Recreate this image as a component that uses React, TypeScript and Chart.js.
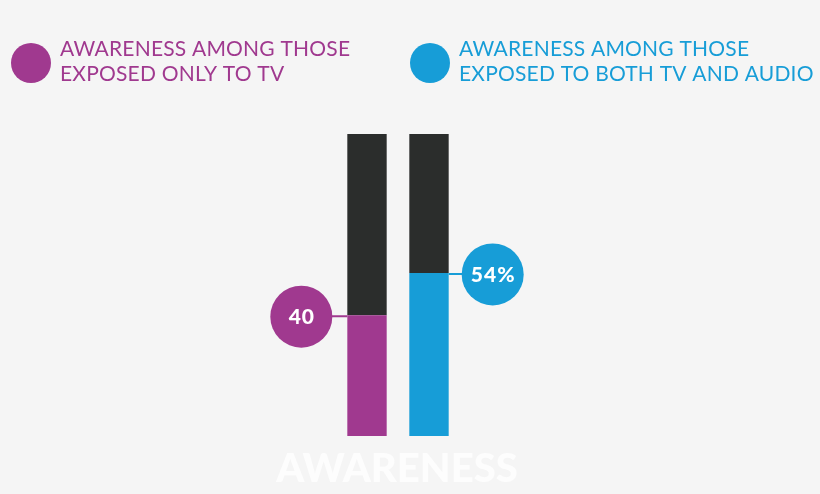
import { useEffect, useRef } from "react"
import { Chart, registerables } from "chart.js"

Chart.register(...registerables)

// datos
const categories = ["TV only", "TV + Audio"]
const awareness = [40, 54]
const valueLabels = ["40", "54%"]
const labelSides = ["left", "right"]
const legendLines = [
  ["AWARENESS AMONG THOSE", "EXPOSED ONLY TO TV"],
  ["AWARENESS AMONG THOSE", "EXPOSED TO BOTH TV AND AUDIO"],
]
const axisTitle = "AWARENESS"

const barColors = ["#a0398f", "#179dd7"]
const darkColor = "#2b2d2c"
const bgColor = "#f5f5f5"
const FONT = "Lato, 'Open Sans', sans-serif"

const overlayPlugin = {
  id: "overlay",
  beforeDraw(chart: any) {
    const { ctx, width, height } = chart
    ctx.save()
    ctx.fillStyle = bgColor
    ctx.fillRect(0, 0, width, height)
    ctx.restore()
  },
  afterDatasetsDraw(chart: any) {
    const { ctx } = chart
    const meta = chart.getDatasetMeta(0)
    ctx.save()

    // etiquetas de valor con círculos
    meta.data.forEach((bar: any, i: number) => {
      const half = bar.width / 2
      const y = bar.y + 1
      const r = 31
      const side = labelSides[i]
      const cx = side === "left" ? bar.x - half - 46 : bar.x + half + 44
      ctx.strokeStyle = barColors[i]
      ctx.lineWidth = 2
      ctx.beginPath()
      if (side === "left") {
        ctx.moveTo(cx, y)
        ctx.lineTo(bar.x - half, y)
      } else {
        ctx.moveTo(bar.x + half, y)
        ctx.lineTo(cx, y)
      }
      ctx.stroke()
      ctx.fillStyle = barColors[i]
      ctx.beginPath()
      ctx.arc(cx, y + 0.5, r, 0, Math.PI * 2)
      ctx.fill()
      ctx.fillStyle = "#ffffff"
      ctx.font = `900 21px ${FONT}`
      ctx.letterSpacing = "1px"
      ctx.textAlign = "center"
      ctx.textBaseline = "middle"
      ctx.fillText(valueLabels[i], cx + 0.5, y + 1.5)
      ctx.letterSpacing = "0px"
    })

    // título inferior
    const xs = meta.data.map((b: any) => b.x)
    const mid = (xs[0] + xs[1]) / 2
    ctx.fillStyle = "#fdfdfd"
    ctx.font = `900 40px ${FONT}`
    ctx.textAlign = "center"
    ctx.textBaseline = "alphabetic"
    ctx.fillText(axisTitle, mid - 1, 482)

    // leyenda
    const legendX = [31, 430]
    const textX = [60, 459]
    legendLines.forEach((lines, i) => {
      ctx.fillStyle = barColors[i]
      ctx.beginPath()
      ctx.arc(legendX[i], 63, 20, 0, Math.PI * 2)
      ctx.fill()
      ctx.font = `21px ${FONT}`
      ctx.letterSpacing = "0.2px"
      ctx.textAlign = "left"
      ctx.textBaseline = "alphabetic"
      lines.forEach((line, j) => {
        ctx.fillText(line, textX[i], 56 + j * 25)
      })
      ctx.letterSpacing = "0px"
    })
    ctx.restore()
  },
}

export default function App() {
  const chartRef = useRef<HTMLCanvasElement>(null)
  const chartInstance = useRef<Chart | null>(null)

  useEffect(() => {
    document.body.style.margin = "0"
    document.body.style.background = bgColor
    if (!chartRef.current) return
    if (chartInstance.current) chartInstance.current.destroy()

    const ctx = chartRef.current.getContext("2d")
    if (!ctx) return
    chartInstance.current = new Chart(ctx, {
      type: "bar",
      data: {
        labels: categories,
        datasets: [
          {
            data: awareness,
            backgroundColor: barColors,
            borderWidth: 0,
          },
          {
            data: awareness.map((v) => 100 - v),
            backgroundColor: darkColor,
            borderWidth: 0,
          },
        ],
      },
      options: {
        responsive: false,
        animation: false,
        devicePixelRatio: 1,
        layout: {
          padding: { top: 134, bottom: 58, left: 336, right: 360 },
        },
        datasets: {
          bar: { categoryPercentage: 1, barPercentage: 0.635 },
        },
        scales: {
          x: { stacked: true, display: false },
          y: { stacked: true, display: false, min: 0, max: 100 },
        },
        plugins: {
          legend: { display: false },
          tooltip: { enabled: false },
        },
      },
      plugins: [overlayPlugin],
    })

    return () => {
      if (chartInstance.current) {
        chartInstance.current.destroy()
        chartInstance.current = null
      }
    }
  }, [])

  return (
    <div style={{ width: 820, height: 494, background: bgColor }}>
      <canvas ref={chartRef} width={820} height={494} />
    </div>
  )
}
